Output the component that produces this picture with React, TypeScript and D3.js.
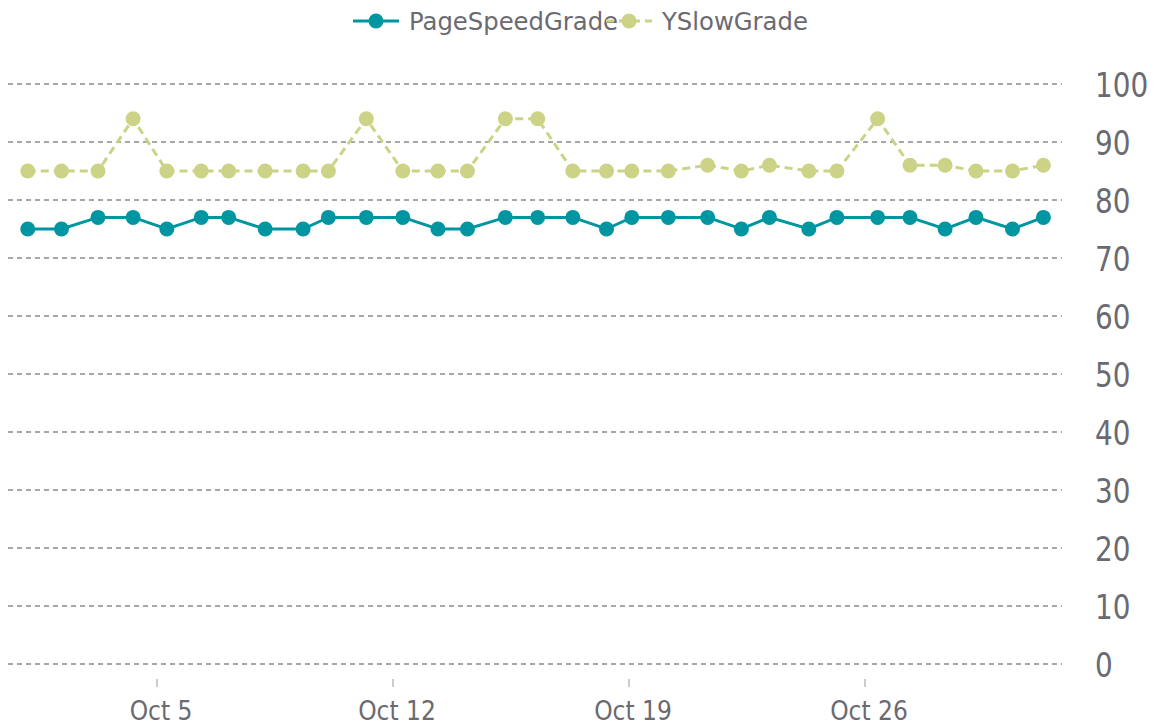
import React from "react";
import * as d3 from "d3";

// sample times (local), one per run
const runTimes = [
  "2013-10-01T04:00", "2013-10-02T04:00", "2013-10-03T06:00", "2013-10-04T07:00",
  "2013-10-05T07:00", "2013-10-06T07:30", "2013-10-07T03:00", "2013-10-08T05:00",
  "2013-10-09T08:00", "2013-10-10T02:00", "2013-10-11T05:00", "2013-10-12T07:00",
  "2013-10-13T08:00", "2013-10-14T05:00", "2013-10-15T08:00", "2013-10-16T07:00",
  "2013-10-17T08:00", "2013-10-18T08:00", "2013-10-19T02:00", "2013-10-20T04:00",
  "2013-10-21T08:00", "2013-10-22T08:00", "2013-10-23T04:00", "2013-10-24T08:00",
  "2013-10-25T04:00", "2013-10-26T09:00", "2013-10-27T08:00", "2013-10-28T09:00",
  "2013-10-29T07:00", "2013-10-30T09:00", "2013-10-31T07:00",
];

const pageSpeedGrade = [
  75, 75, 77, 77, 75, 77, 77, 75, 75, 77, 77, 77, 75, 75, 77, 77,
  77, 75, 77, 77, 77, 75, 77, 75, 77, 77, 77, 75, 77, 75, 77,
];

const ySlowGrade = [
  85, 85, 85, 94, 85, 85, 85, 85, 85, 85, 94, 85, 85, 85, 94, 94,
  85, 85, 85, 85, 86, 85, 86, 85, 85, 94, 86, 86, 85, 85, 86,
];

const xTickDates = ["2013-10-05", "2013-10-12", "2013-10-19", "2013-10-26"];
const yTicks = [0, 10, 20, 30, 40, 50, 60, 70, 80, 90, 100];

const TEAL = "#0096a1";
const OLIVE = "#ccd386";
const TEXT = "#6a6a71";
const GRID = "#8a8a8a";

const W = 1159;
const H = 725;

export default function App() {
  const parse = d3.timeParse("%Y-%m-%dT%H:%M");
  const parseDay = d3.timeParse("%Y-%m-%d");
  const times = runTimes.map((t) => parse(t) as Date);
  const ticks = xTickDates.map((t) => parseDay(t) as Date);

  // x: Oct 5 -> 157px, Oct 26 -> 865px
  const x = d3.scaleTime().domain([ticks[0], ticks[3]]).range([157, 865]);
  const y = d3.scaleLinear().domain([0, 100]).range([664, 84]);

  const gridLeft = 8;
  const gridRight = 1062;

  const fmt = d3.timeFormat("%b %-d");

  const line = d3
    .line<number>()
    .x((_, i) => x(times[i]))
    .y((d) => y(d));

  const series = [
    { name: "PageSpeedGrade", values: pageSpeedGrade, color: TEAL, dash: null as string | null },
    { name: "YSlowGrade", values: ySlowGrade, color: OLIVE, dash: "8,5" },
  ];

  const legendX = [353, 606];

  return (
    <div style={{ position: "absolute", left: 0, top: 0 }}>
      <svg width={W} height={H} style={{ display: "block", background: "#fff" }}>
        {/* grid */}
        {yTicks.map((v) => (
          <line
            key={"g" + v}
            x1={gridLeft}
            x2={gridRight}
            y1={y(v)}
            y2={y(v)}
            stroke={GRID}
            strokeWidth={1.3}
            strokeDasharray="5,4"
          />
        ))}

        {/* y labels, right side */}
        {yTicks.map((v) => (
          <text
            key={"yl" + v}
            transform={`translate(1095,${y(v) + 12.5}) scale(0.82,1)`}
            fontFamily="DejaVu Sans, sans-serif"
            fontSize={34}
            fill={TEXT}
          >
            {v}
          </text>
        ))}

        {/* x ticks + labels */}
        {ticks.map((d, i) => (
          <g key={"xt" + i}>
            <line x1={x(d)} x2={x(d)} y1={679} y2={687} stroke="#9a9a9a" strokeWidth={1} />
            <text
              transform={`translate(${x(d) + 4},720) scale(0.9,1)`}
              textAnchor="middle"
              fontFamily="DejaVu Sans, sans-serif"
              fontSize={26}
              fill={TEXT}
            >
              {fmt(d)}
            </text>
          </g>
        ))}

        {/* series */}
        {series.map((s) => (
          <g key={s.name}>
            <path
              d={line(s.values) || ""}
              fill="none"
              stroke={s.color}
              strokeWidth={3}
              strokeDasharray={s.dash || undefined}
            />
            {s.values.map((v, i) => (
              <circle key={i} cx={x(times[i])} cy={y(v)} r={7.5} fill={s.color} />
            ))}
          </g>
        ))}

        {/* legend */}
        {series.map((s, i) => (
          <g key={"lg" + s.name} transform={`translate(${legendX[i]},21)`}>
            <line
              x1={0}
              x2={46}
              y1={0}
              y2={0}
              stroke={s.color}
              strokeWidth={3}
              strokeDasharray={s.dash || undefined}
            />
            <circle cx={23} cy={0} r={7.5} fill={s.color} />
            <text
              x={56}
              y={8.5}
              fontFamily="DejaVu Sans, sans-serif"
              fontSize={24.3}
              fill={TEXT}
            >
              {s.name}
            </text>
          </g>
        ))}
      </svg>
    </div>
  );
}
